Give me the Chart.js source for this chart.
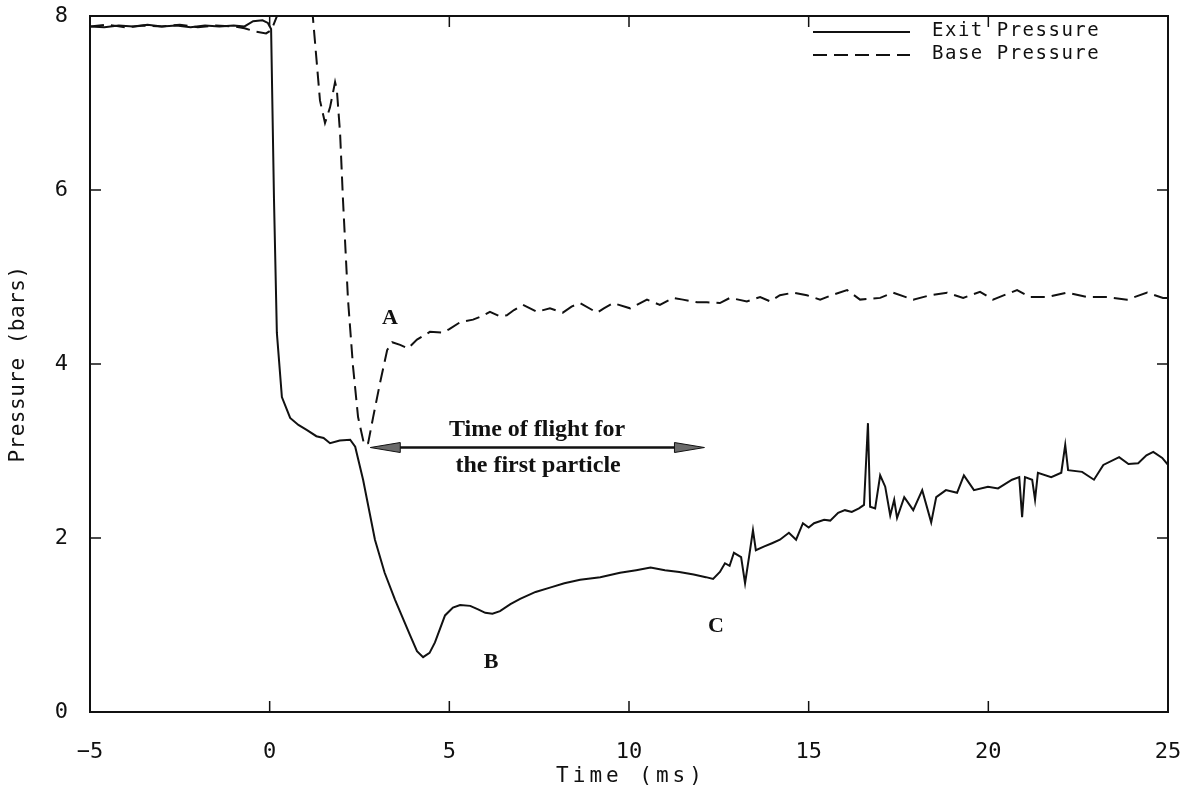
<!DOCTYPE html>
<html>
<head>
<meta charset="utf-8">
<script src="https://cdn.jsdelivr.net/npm/chart.js@4.4.1/dist/chart.umd.min.js"></script>
<style>
  html, body { margin: 0; padding: 0; background: #fff; }
  #wrap { width: 1196px; height: 795px; position: relative; }
</style>
</head>
<body>
<div id="wrap"><canvas id="chart"></canvas></div>
<script>
// Exit pressure (solid)
const exitTime = [-5, -4.6, -4.2, -3.8, -3.4, -3, -2.6, -2.2, -1.8, -1.4, -1, -0.7, -0.46, -0.2, -0.05, 0.04,
  0.12, 0.2, 0.34, 0.57, 0.8, 1.04, 1.3, 1.5, 1.68, 1.95, 2.24, 2.38, 2.6, 2.93, 3.2, 3.49, 3.9, 4.1, 4.27,
  4.45, 4.6, 4.88, 5.1, 5.3, 5.58, 5.8, 6.0, 6.2, 6.41, 6.7, 6.97, 7.4, 7.8, 8.2, 8.64, 9.2, 9.75, 10.2, 10.6,
  11.0, 11.4, 11.8, 12.14, 12.34, 12.53, 12.67, 12.8, 12.92, 13.12, 13.23, 13.34, 13.45, 13.53, 13.75, 13.98,
  14.2, 14.45, 14.65, 14.84, 15.0, 15.15, 15.43, 15.6, 15.82, 16.01, 16.2, 16.4, 16.54, 16.65, 16.71, 16.85,
  16.99, 17.13, 17.27, 17.38, 17.46, 17.66, 17.91, 18.16, 18.41, 18.55, 18.82, 19.13, 19.32, 19.6, 19.99,
  20.27, 20.66, 20.86, 20.94, 21.02, 21.22, 21.3, 21.38, 21.75, 22.03, 22.14, 22.22, 22.61, 22.94, 23.2,
  23.64, 23.9, 24.17, 24.4, 24.59, 24.84, 25.0];
const exitPressure = [7.88, 7.87, 7.89, 7.88, 7.9, 7.88, 7.89, 7.87, 7.89, 7.88, 7.89, 7.88, 7.94, 7.95, 7.92, 7.85,
  5.9, 4.36, 3.62, 3.38, 3.3, 3.24, 3.17, 3.15, 3.09, 3.12, 3.13, 3.05, 2.67, 1.98, 1.6, 1.29, 0.89, 0.7, 0.63,
  0.68, 0.8, 1.11, 1.2, 1.23, 1.22, 1.18, 1.14, 1.13, 1.16, 1.24, 1.3, 1.38, 1.43, 1.48, 1.52, 1.55, 1.6, 1.63, 1.66,
  1.63, 1.61, 1.58, 1.55, 1.53, 1.61, 1.71, 1.68, 1.83, 1.78, 1.48, 1.78, 2.09, 1.86, 1.9, 1.94,
  1.98, 2.06, 1.98, 2.17, 2.12, 2.17, 2.21, 2.2, 2.29, 2.32, 2.3, 2.34, 2.38, 3.32, 2.36, 2.34,
  2.72, 2.59, 2.26, 2.44, 2.23, 2.47, 2.32, 2.55, 2.18, 2.47, 2.55, 2.52, 2.72, 2.55, 2.59,
  2.57, 2.67, 2.7, 2.24, 2.7, 2.67, 2.44, 2.75, 2.7, 2.75, 3.07, 2.78, 2.76, 2.67, 2.84,
  2.93, 2.85, 2.86, 2.95, 2.99, 2.92, 2.84];

// Base pressure (dashed); values above 8 run off the top of the frame
const baseTime = [-5, -4.5, -4, -3.5, -3, -2.5, -2, -1.5, -1, -0.7, -0.4, -0.1, 0.05, 0.3, 0.7, 1.1, 1.2, 1.4,
  1.54, 1.68, 1.82, 1.87, 1.96, 2.04, 2.18, 2.32, 2.46, 2.63, 2.74, 2.88, 3.07, 3.27, 3.41, 3.63, 3.85, 4.1,
  4.46, 4.82, 5.0, 5.3, 5.66, 5.9, 6.13, 6.4, 6.6, 6.8, 7.05, 7.44, 7.8, 8.16, 8.4, 8.64, 9.11, 9.3, 9.56,
  10.03, 10.5, 10.86, 11.23, 11.5, 11.9, 12.17, 12.53, 12.81, 13.28, 13.65, 13.93, 14.2, 14.57, 14.95, 15.32,
  15.7, 16.07, 16.43, 16.99, 17.35, 17.91, 18.38, 18.85, 19.3, 19.77, 20.13, 20.8, 21.16, 21.63, 22.19,
  22.75, 23.3, 23.86, 24.42, 24.86, 25];
const basePressure = [7.88, 7.9, 7.87, 7.89, 7.88, 7.9, 7.87, 7.89, 7.88, 7.86, 7.82, 7.8, 7.84, 8.1, 8.8, 8.3, 8.0, 7.03,
  6.77, 6.95, 7.24, 7.15, 6.65, 5.89, 4.74, 3.97, 3.39, 3.07, 3.09, 3.39, 3.78, 4.16, 4.25, 4.22, 4.18, 4.28,
  4.37, 4.36, 4.4, 4.48, 4.51, 4.55, 4.6, 4.55, 4.56, 4.62, 4.68, 4.6, 4.64, 4.59, 4.66, 4.7, 4.59, 4.64, 4.7,
  4.64, 4.74, 4.68, 4.76, 4.74, 4.71, 4.71, 4.7, 4.76, 4.72, 4.77, 4.72, 4.79, 4.82, 4.79, 4.74,
  4.8, 4.85, 4.74, 4.76, 4.82, 4.74, 4.79, 4.82, 4.76, 4.83, 4.74, 4.85, 4.77, 4.77, 4.82,
  4.77, 4.77, 4.74, 4.82, 4.76, 4.76];

const seriesNames = ['Exit Pressure', 'Base Pressure'];
const xTickValues = [-5, 0, 5, 10, 15, 20, 25];
const yTickValues = [0, 2, 4, 6, 8];

// Labels placed in data coordinates
const notes = [
  { text: 'A', x: 3.35, y: 4.53, size: 22 },
  { text: 'B', x: 6.16, y: 0.57, size: 22 },
  { text: 'C', x: 12.42, y: 0.98, size: 22 },
  { text: 'Time of flight for', x: 7.44, y: 3.24, size: 24 },
  { text: 'the first particle', x: 7.47, y: 2.83, size: 24 }
];
const flightArrow = { from: 2.8, to: 12.1, y: 3.04 };

function toPoints(xs, ys) {
  return xs.map((x, i) => ({ x: x, y: ys[i] }));
}

const ink = '#111';
const plotFont = '"DejaVu Sans Mono", monospace';

// Draws frame, inward ticks, axis titles, legend and annotations
const decorPlugin = {
  id: 'decor',
  afterDraw(chart) {
    const ctx = chart.ctx;
    const area = chart.chartArea;
    const xs = chart.scales.x;
    const ys = chart.scales.y;
    ctx.save();
    ctx.strokeStyle = ink;
    ctx.lineWidth = 2;
    ctx.strokeRect(area.left, area.top, area.right - area.left, area.bottom - area.top);

    // Inward ticks on all four sides
    ctx.lineWidth = 1.5;
    ctx.beginPath();
    for (let v of xTickValues) {
      if (v === xs.min || v === xs.max) continue;
      let px = xs.getPixelForValue(v);
      ctx.moveTo(px, area.bottom); ctx.lineTo(px, area.bottom - 11);
      ctx.moveTo(px, area.top); ctx.lineTo(px, area.top + 11);
    }
    for (let v of yTickValues) {
      if (v === ys.min || v === ys.max) continue;
      let py = ys.getPixelForValue(v);
      ctx.moveTo(area.left, py); ctx.lineTo(area.left + 11, py);
      ctx.moveTo(area.right, py); ctx.lineTo(area.right - 11, py);
    }
    ctx.stroke();

    // Axis titles
    ctx.fillStyle = ink;
    ctx.textAlign = 'center';
    ctx.textBaseline = 'middle';
    ctx.font = '21px ' + plotFont;
    ctx.letterSpacing = '4px';
    ctx.fillText('Time (ms)', (area.left + area.right) / 2 + 2, 777);
    ctx.save();
    ctx.translate(19, (area.top + area.bottom) / 2);
    ctx.rotate(-Math.PI / 2);
    ctx.letterSpacing = '0.5px';
    ctx.fillText('Pressure (bars)', 0, 0);
    ctx.restore();

    // Legend
    let lx0 = area.right - 355, lx1 = area.right - 258;
    let rows = [area.top + 16, area.top + 39];
    ctx.lineWidth = 2;
    chart.data.datasets.forEach((ds, i) => {
      ctx.setLineDash(ds.borderDash || []);
      ctx.beginPath();
      ctx.moveTo(lx0, rows[i]);
      ctx.lineTo(lx1, rows[i]);
      ctx.stroke();
      ctx.setLineDash([]);
      ctx.textAlign = 'left';
      ctx.font = '19px ' + plotFont;
      ctx.letterSpacing = '1.5px';
      ctx.fillText(ds.label, area.right - 236, rows[i] - 1);
    });
    ctx.letterSpacing = '0px';

    // Annotations
    ctx.textAlign = 'center';
    for (let n of notes) {
      ctx.font = 'bold ' + n.size + 'px "Liberation Serif", serif';
      ctx.fillText(n.text, xs.getPixelForValue(n.x), ys.getPixelForValue(n.y));
    }

    // Double-headed arrow
    let ax0 = xs.getPixelForValue(flightArrow.from);
    let ax1 = xs.getPixelForValue(flightArrow.to);
    let ay = ys.getPixelForValue(flightArrow.y);
    ctx.lineWidth = 2.5;
    ctx.beginPath();
    ctx.moveTo(ax0 + 20, ay);
    ctx.lineTo(ax1 - 20, ay);
    ctx.stroke();
    ctx.fillStyle = '#6a6a6a';
    ctx.lineWidth = 1;
    for (let [tip, dir] of [[ax0, 1], [ax1, -1]]) {
      ctx.beginPath();
      ctx.moveTo(tip, ay);
      ctx.lineTo(tip + dir * 30, ay - 5);
      ctx.lineTo(tip + dir * 30, ay + 5);
      ctx.closePath();
      ctx.fill();
      ctx.stroke();
    }
    ctx.restore();
  }
};

new Chart(document.getElementById('chart'), {
  type: 'line',
  data: {
    datasets: [
      {
        label: seriesNames[0],
        data: toPoints(exitTime, exitPressure),
        borderColor: ink,
        borderWidth: 2,
        pointRadius: 0,
        tension: 0
      },
      {
        label: seriesNames[1],
        data: toPoints(baseTime, basePressure),
        borderColor: ink,
        borderWidth: 2,
        borderDash: [14, 7],
        pointRadius: 0,
        tension: 0
      }
    ]
  },
  options: {
    responsive: true,
    maintainAspectRatio: false,
    animation: false,
    layout: { padding: { top: 16, right: 28, left: 0, bottom: 0 } },
    plugins: {
      legend: { display: false },
      tooltip: { enabled: false }
    },
    scales: {
      x: {
        type: 'linear',
        min: -5,
        max: 25,
        afterFit(scale) {
          scale.height = 83;
          scale.paddingLeft = 0;
          scale.paddingRight = 0;
        },
        afterBuildTicks(scale) { scale.ticks = xTickValues.map(v => ({ value: v })); },
        grid: { display: false, drawTicks: false },
        border: { display: false },
        ticks: {
          padding: 27,
          color: ink,
          font: { family: plotFont, size: 22 },
          callback: v => (v < 0 ? '\u2212' + Math.abs(v) : String(v))
        }
      },
      y: {
        type: 'linear',
        min: 0,
        max: 8,
        afterFit(scale) {
          scale.width = 90;
          scale.paddingTop = 0;
          scale.paddingBottom = 0;
        },
        afterBuildTicks(scale) { scale.ticks = yTickValues.map(v => ({ value: v })); },
        grid: { display: false, drawTicks: false },
        border: { display: false },
        ticks: {
          padding: 22,
          color: ink,
          font: { family: plotFont, size: 22 }
        }
      }
    }
  },
  plugins: [decorPlugin]
});
</script>
</body>
</html>
